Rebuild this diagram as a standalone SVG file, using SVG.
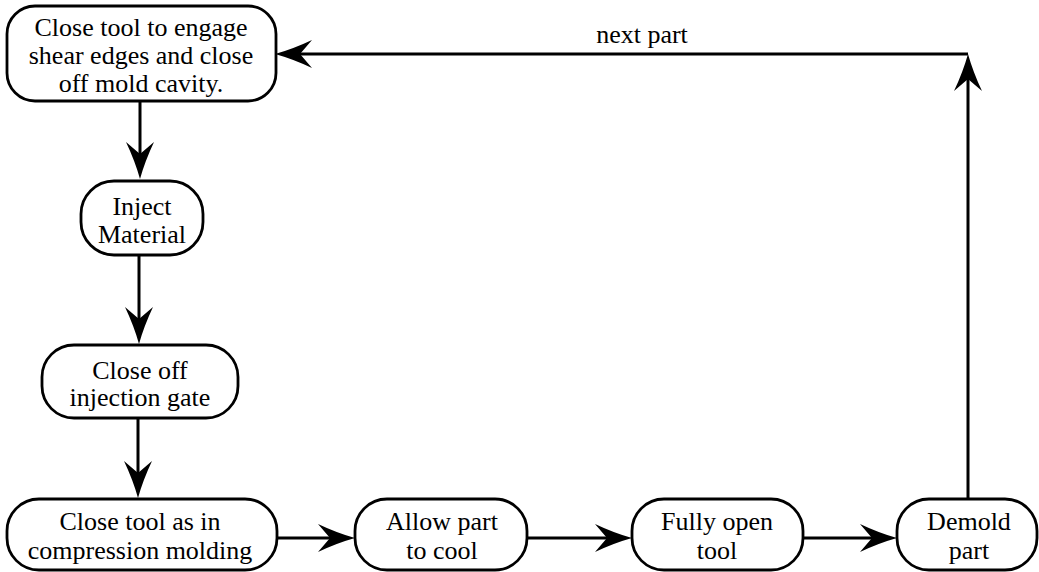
<svg xmlns="http://www.w3.org/2000/svg" width="1039" height="572" viewBox="0 0 1039 572">
<style>
.box{fill:#fff;stroke:#000;stroke-width:2.8}
.t{font-size:26px;fill:#000;text-anchor:middle}
.c{fill:none;stroke:#000;stroke-width:3;marker-end:url(#ah)}
</style>
<defs>
<marker id="ah" markerUnits="userSpaceOnUse" viewBox="-40 -16 42 32" markerWidth="42" markerHeight="32" refX="-25" refY="0" orient="auto">
<path d="M0,0 Q-18,-5 -37,-14 L-25,0 L-37,14 Q-18,5 0,0 Z" fill="#000"/>
</marker>
</defs>
<rect width="1039" height="572" fill="#fff"/>
<g font-family="'Liberation Serif', 'Times New Roman', 'DejaVu Serif', serif">
<g id="connectors">
<path class="c" d="M140,101 V154"/>
<path class="c" d="M139,255 V319"/>
<path class="c" d="M138,418 V473"/>
<path class="c" d="M277,538 H330"/>
<path class="c" d="M527,538 H607"/>
<path class="c" d="M803,538 H872"/>
<path class="c" d="M968,499 V79"/>
<path class="c" d="M968,54 H300"/>
<text class="t" x="642" y="43">next part</text>
</g>
<g id="n1">
<rect class="box" x="7" y="6" width="269" height="95" rx="28"/>
<text class="t" x="141" y="36">Close tool to engage</text>
<text class="t" x="141" y="64">shear edges and close</text>
<text class="t" x="141" y="92">off mold cavity.</text>
</g>
<g id="n2">
<rect class="box" x="81" y="181" width="122" height="74" rx="33"/>
<text class="t" x="142" y="215">Inject</text>
<text class="t" x="142" y="243">Material</text>
</g>
<g id="n3">
<rect class="box" x="42" y="345" width="196" height="73" rx="32"/>
<text class="t" x="140" y="379">Close off</text>
<text class="t" x="140" y="406">injection gate</text>
</g>
<g id="n4">
<rect class="box" x="7" y="499" width="270" height="71" rx="32"/>
<text class="t" x="140" y="530">Close tool as in</text>
<text class="t" x="140" y="559">compression molding</text>
</g>
<g id="n5">
<rect class="box" x="355" y="499" width="172" height="71" rx="32"/>
<text class="t" x="442" y="530">Allow part</text>
<text class="t" x="442" y="559">to cool</text>
</g>
<g id="n6">
<rect class="box" x="632" y="499" width="171" height="71" rx="32"/>
<text class="t" x="717" y="530">Fully open</text>
<text class="t" x="717" y="559">tool</text>
</g>
<g id="n7">
<rect class="box" x="897" y="499" width="140" height="71" rx="32"/>
<text class="t" x="969" y="530">Demold</text>
<text class="t" x="969" y="559">part</text>
</g>
</g>
</svg>
